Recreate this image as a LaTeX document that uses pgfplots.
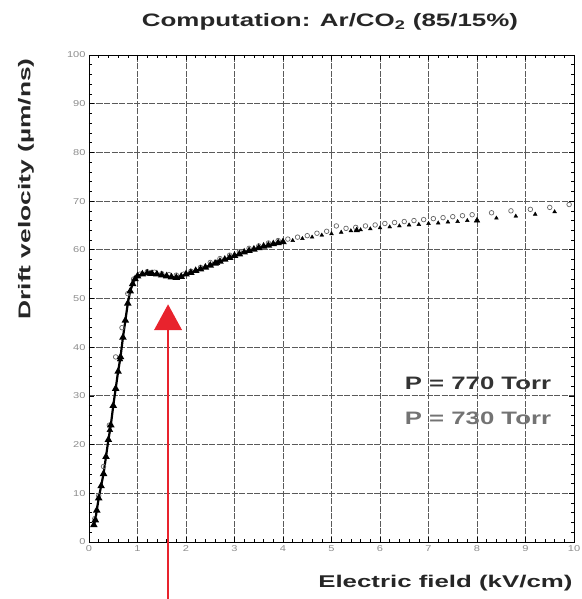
\documentclass[border=0pt]{standalone}
\usepackage{fontspec}
\setmainfont{Liberation Sans}
\usepackage{pgfplots}
\pgfplotsset{compat=1.18}
\definecolor{arrowred}{RGB}{232,35,45}
\definecolor{gridc}{RGB}{90,90,90}
\begin{document}
\begin{tikzpicture}
\useasboundingbox (-89pt,-57pt) rectangle (492pt,542pt);
\begin{axis}[
  scale only axis,
  width=485pt, height=487pt,
  xmin=0, xmax=10, ymin=0, ymax=100,
  xtick={0,1,...,10}, ytick={0,10,...,100},
  minor x tick num=4, minor y tick num=4,
  tick align=inside,
  major tick length=5pt, minor tick length=3pt,
  grid=major,
  major grid style={gridc, line width=0.8pt, dash pattern=on 6pt off 1.5pt},
  axis line style={black, line width=0.8pt},
  every tick/.style={black, line width=0.6pt},
  /pgf/number format/assume math mode=true,
  tick label style={font=\fontsize{8.5}{9}\selectfont, text=black!45},
  xticklabel={\scalebox{1.3}[1]{\pgfmathprintnumber{\tick}}},
  yticklabel={\scalebox{1.3}[1]{\pgfmathprintnumber{\tick}}},
  clip=false,
]
% P = 730 Torr (open circles)
\addplot[only marks, mark=o, mark size=2.3pt, mark options={black!60, line width=0.7pt}] coordinates {
(0.12,4.8) (0.20,9.5) (0.30,15.5) (0.42,24) (0.55,38) (0.68,44) (0.80,51)
(0.92,54) (1.05,55) (1.20,55.5) (1.35,55.4) (1.50,55.1) (1.65,54.9) (1.80,54.8)
(1.95,55.0) (2.10,55.6) (2.30,56.4) (2.50,57.4) (2.70,58.2) (2.90,58.9)
(3.10,59.6) (3.30,60.3) (3.50,60.8) (3.70,61.4) (3.90,61.9) (4.10,62.2)
(4.30,62.6) (4.50,62.9) (4.70,63.4) (4.90,63.8) (5.10,64.9) (5.30,64.4)
(5.50,64.6) (5.70,64.9) (5.90,65.1) (6.10,65.4) (6.30,65.6) (6.50,65.8)
(6.70,66.0) (6.90,66.2) (7.10,66.4) (7.30,66.6) (7.50,66.8) (7.70,67.0)
(7.90,67.2) (8.30,67.6) (8.70,68.0) (9.10,68.3) (9.50,68.7) (9.90,69.3)
};
% P = 770 Torr (filled triangles, dense)
\addplot[black, line width=2.2pt, mark=triangle*, mark size=2.2pt, mark options={solid, black}] coordinates {
(0.10,3.5) (0.13,4.5) (0.16,6.5) (0.20,9) (0.25,11.5) (0.30,14) (0.35,17.5) (0.40,21)
(0.45,24) (0.50,28) (0.55,31.5) (0.60,35) (0.65,38) (0.70,42) (0.75,45.5)
(0.80,49) (0.85,51.5) (0.90,53) (0.95,54) (1.00,54.6) (1.10,55) (1.20,55.2)
(1.30,55.1) (1.40,55) (1.50,54.8) (1.60,54.6) (1.70,54.4) (1.80,54.3)
(1.90,54.5) (2.00,55) (2.10,55.3) (2.20,55.7) (2.30,56.0) (2.40,56.4) (2.50,56.8) (2.60,57.2) (2.70,57.6) (2.80,58)
(2.90,58.4) (3.00,58.8) (3.10,59.1) (3.20,59.5) (3.30,59.8) (3.40,60.1) (3.50,60.4) (3.60,60.7) (3.70,60.9) (3.80,61.2) (3.90,61.4) (4.00,61.6)
};
\addplot[only marks, mark=triangle*, mark size=2.2pt, mark options={black}] coordinates {
(4.20,61.9) (4.40,62.3) (4.60,62.6) (4.80,63.0) (5.00,63.3) (5.20,63.6) (5.40,63.9)
(5.60,64.1) (5.80,64.3) (6.00,64.5) (6.20,64.7) (6.40,64.9) (6.60,65.1)
(6.80,65.2) (7.00,65.4) (7.20,65.5) (7.40,65.7) (7.60,65.8) (7.80,66.0)
(8.40,66.5) (8.80,66.9) (9.20,67.3) (9.60,67.8)
};
% larger triangles
\addplot[only marks, black, mark=triangle*, mark size=3.3pt] coordinates {
(0.43,23) (0.64,37.5) (1.26,55.1) (2.64,57.3) (5.52,64.0) (8.0,66.0)
};
% annotation arrow
\draw[arrowred, line width=1.6pt] (axis cs:1.63,43.5) -- (axis cs:1.63,-12);
\fill[arrowred] (axis cs:1.63,48.8) -- (axis cs:1.34,43.5) -- (axis cs:1.92,43.5) -- cycle;
% labels
\node[anchor=east, font=\fontsize{18}{20}\selectfont\bfseries, text=black!80] at (axis cs:9.6,32.5) {\scalebox{1.43}[1]{P = 770 Torr}};
\node[anchor=east, font=\fontsize{18}{20}\selectfont\bfseries, text=black!55] at (axis cs:9.6,25.3) {\scalebox{1.43}[1]{P = 730 Torr}};
\end{axis}
\node[font=\fontsize{18}{20}\selectfont\bfseries, text=black!85] at (241pt,520pt) {\scalebox{1.44}[1]{Computation: Ar/CO$_{\mathbf{2}}$ (85/15\%)}};
\node[font=\fontsize{17}{19}\selectfont\bfseries, text=black!85, rotate=90] at (-63pt,353pt) {\scalebox{1.55}[1]{Drift velocity (\textmu m/ns)}};
\node[anchor=east, font=\fontsize{17}{19}\selectfont\bfseries, text=black!85] at (487pt,-41pt) {\scalebox{1.52}[1]{Electric field (kV/cm)}};
\end{tikzpicture}
\end{document}
